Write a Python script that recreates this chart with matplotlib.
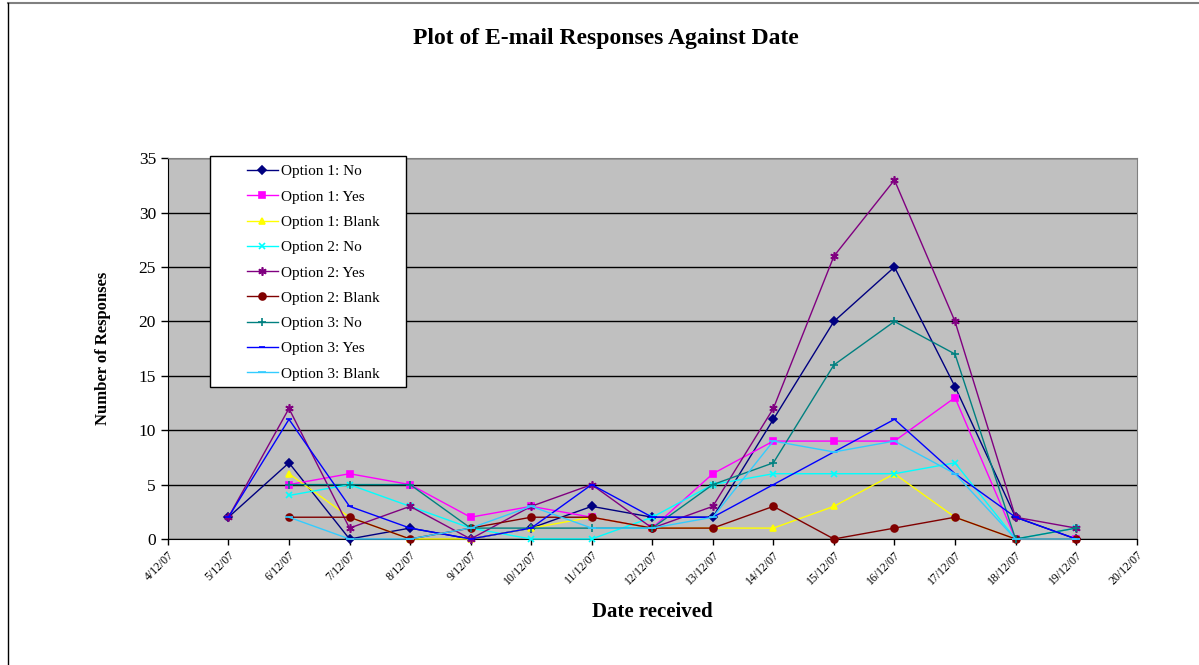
import matplotlib.pyplot as plt
import matplotlib.transforms as mtransforms
from matplotlib.lines import Line2D
from matplotlib.patches import Rectangle

# categories on the x axis (4/12/07 .. 20/12/07), data from 5/12 to 19/12
dates = [f"{d}/12/07" for d in range(4, 21)]

opt1_no    = [2, 7, 0, 1, 0, 1, 3, 2, 2, 11, 20, 25, 14, 2, 0]
opt1_yes   = [None, 5, 6, 5, 2, 3, 2, 1, 6, 9, 9, 9, 13, 0, 0]
opt1_blank = [None, 6, 2, 0, 0, 1, 2, 1, 1, 1, 3, 6, 2, 0, 0]
opt2_no    = [None, 4, 5, 3, 1, 0, 0, 2, 5, 6, 6, 6, 7, 0, 1]
opt2_yes   = [2, 12, 1, 3, 0, 3, 5, 1, 3, 12, 26, 33, 20, 2, 1]
opt2_blank = [None, 2, 2, 0, 1, 2, 2, 1, 1, 3, 0, 1, 2, 0, 0]
opt3_no    = [None, 5, 5, 5, 1, 1, 1, 1, 5, 7, 16, 20, 17, 0, 1]
opt3_yes   = [2, 11, 3, 1, 0, 1, 5, 2, 2, 5, 8, 11, 6, 2, 0]
opt3_blank = [None, 2, 0, 0, 1, 3, 1, 1, 2, 9, 8, 9, 6, 0, 0]

series = [
    ("Option 1: No", opt1_no, "#000080", "D", 4),
    ("Option 1: Yes", opt1_yes, "#FF00FF", "s", 5),
    ("Option 1: Blank", opt1_blank, "#FFFF00", "^", 5),
    ("Option 2: No", opt2_no, "#00FFFF", "x", 5),
    ("Option 2: Yes", opt2_yes, "#800080", (6, 2, 0), 6),
    ("Option 2: Blank", opt2_blank, "#800000", "o", 5),
    ("Option 3: No", opt3_no, "#008080", "+", 6),
    ("Option 3: Yes", opt3_yes, "#0000FF", "_", 4),
    ("Option 3: Blank", opt3_blank, "#33CCFF", "_", 6),
]

plt.rcParams['font.family'] = ['Liberation Serif', 'DejaVu Serif']

fig = plt.figure(figsize=(11.99, 6.65), dpi=100)
ax = fig.add_axes([0.140, 0.1895, 0.808, 0.5725])
ax.set_facecolor("#C0C0C0")

for name, vals, col, mk, ms in series:
    xs = [i + 1 for i, v in enumerate(vals) if v is not None]
    ys = [v for v in vals if v is not None]
    ax.plot(xs, ys, color=col, marker=mk, markersize=ms, linewidth=1,
            markeredgewidth=1.2, label=name, clip_on=False, zorder=3)

ax.set_xlim(0, len(dates) - 1)
ax.set_ylim(0, 35)
ax.set_xticks(range(len(dates)))
ax.set_xticklabels(dates, rotation=45, ha="right", rotation_mode="anchor",
                   fontsize=8.5)
shift = mtransforms.ScaledTranslation(-7 / 100, -3 / 100, fig.dpi_scale_trans)
for lbl in ax.get_xticklabels():
    lbl.set_transform(lbl.get_transform() + shift)
ax.set_yticks(range(0, 36, 5))
ax.tick_params(axis="y", labelsize=12.5, direction="out", length=5, width=1)
ax.tick_params(axis="x", direction="out", length=4, width=1, pad=3)
ax.yaxis.grid(True, color="black", linewidth=1)
ax.set_axisbelow(True)
for s in ["top", "right"]:
    ax.spines[s].set_color("#808080")
for s in ["left", "bottom"]:
    ax.spines[s].set_color("black")

ax.set_xlabel("Date received", fontsize=15, fontweight="bold", labelpad=11)
ax.set_ylabel("Number of Responses", fontsize=12, fontweight="bold",
              labelpad=20)
fig.text(0.505, 0.942, "Plot of E-mail Responses Against Date",
         ha="center", va="center", fontsize=17, fontweight="bold")

# legend box drawn separately so the padding matches the original
fig.add_artist(Rectangle((0.1751, 0.418), 0.1635, 0.347, transform=fig.transFigure,
                         facecolor="white", edgecolor="black", linewidth=1,
                         zorder=4))
leg = fig.legend(loc="upper left", bbox_to_anchor=(0.206, 0.7525),
                 fontsize=11, frameon=False, labelspacing=0.76,
                 handlelength=2.0, borderpad=0, handletextpad=0.25,
                 borderaxespad=0)
leg.set_zorder(5)

# outer chart frame (top and left edges visible)
fig.add_artist(Line2D([0.0067, 1.0], [0.9955, 0.9955], color="#808080",
                      linewidth=1.5, transform=fig.transFigure))
fig.add_artist(Line2D([0.0067, 0.0067], [0.0, 0.9955], color="black",
                      linewidth=1, transform=fig.transFigure))

plt.savefig("out.png", dpi=100)
